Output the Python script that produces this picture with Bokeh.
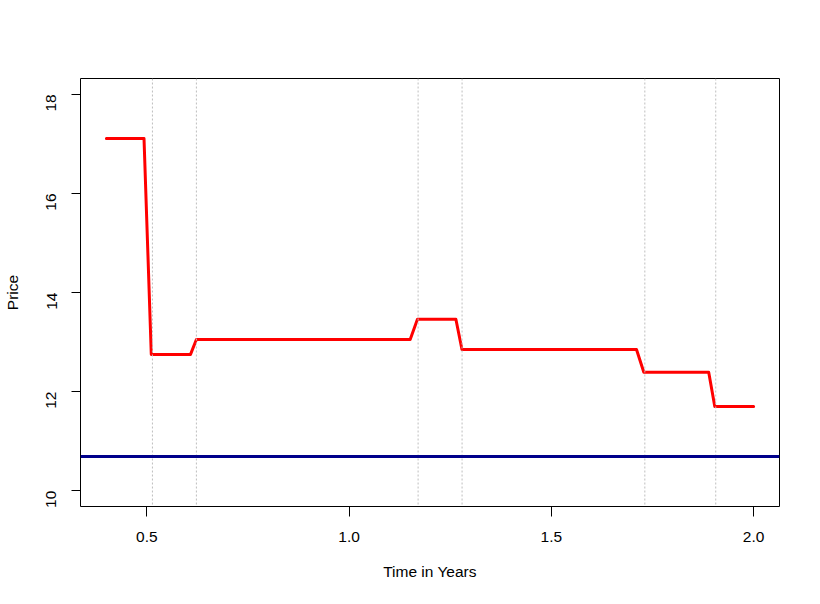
import math
from bokeh.plotting import figure
from bokeh.models import Span, FixedTicker, Range1d
from bokeh.embed import file_html
from bokeh.resources import INLINE

# data
time_years = [0.400, 0.493, 0.511, 0.608, 0.6225, 1.151, 1.169, 1.264, 1.279, 1.7105, 1.7286, 1.889, 1.904, 2.000]
price = [17.11, 17.11, 12.75, 12.75, 13.05, 13.05, 13.46, 13.46, 12.85, 12.85, 12.39, 12.39, 11.70, 11.70]
strike_level = 10.69
event_times = [0.5138, 0.6225, 1.1706, 1.2793, 1.7311, 1.9064]
x_ticks = [0.5, 1.0, 1.5, 2.0]
y_ticks = [10, 12, 14, 16, 18]

FONT = "Liberation Sans"

p = figure(width=804, height=588, output_backend="svg", toolbar_location=None,
           x_range=Range1d(0.336, 2.064), y_range=Range1d(9.68, 18.32),
           min_border_left=78, min_border_right=25, min_border_top=78, min_border_bottom=82)
p.background_fill_color = "white"
p.border_fill_color = "white"
p.outline_line_color = "black"
p.outline_line_width = 1
p.xgrid.visible = False
p.ygrid.visible = False

for t in event_times:
    p.add_layout(Span(location=t, dimension="height", line_color="#BEBEBE",
                      line_dash="2 2", line_width=1))

p.add_layout(Span(location=strike_level, dimension="width", line_color="#00008B", line_width=3))

p.line(time_years, price, line_color="#FF0000", line_width=3, line_join="round", line_cap="round")

p.xaxis.ticker = FixedTicker(ticks=x_ticks)
p.yaxis.ticker = FixedTicker(ticks=y_ticks)
p.xaxis.major_label_overrides = {t: f"{t:.1f}" for t in x_ticks}
p.yaxis.major_label_overrides = {t: f"{t}" for t in y_ticks}
p.yaxis.major_label_orientation = math.pi / 2

for ax in (p.xaxis, p.yaxis):
    ax.axis_line_color = None
    ax.major_tick_line_color = "black"
    ax.major_tick_in = 0
    ax.minor_tick_line_color = None
    ax.major_label_text_font = FONT
    ax.major_label_text_font_size = "15.5px"
    ax.major_label_text_color = "black"
    ax.axis_label_text_font = FONT
    ax.axis_label_text_font_size = "15.5px"
    ax.axis_label_text_font_style = "normal"
    ax.axis_label_text_color = "black"

p.xaxis.major_tick_out = 10
p.yaxis.major_tick_out = 9
p.xaxis.major_label_standoff = 15
p.yaxis.major_label_standoff = 20
p.xaxis.axis_label = "Time in Years"
p.yaxis.axis_label = "Price"
p.xaxis.axis_label_standoff = 18
p.yaxis.axis_label_standoff = 18

open("out.html", "w").write(file_html(p, INLINE))
